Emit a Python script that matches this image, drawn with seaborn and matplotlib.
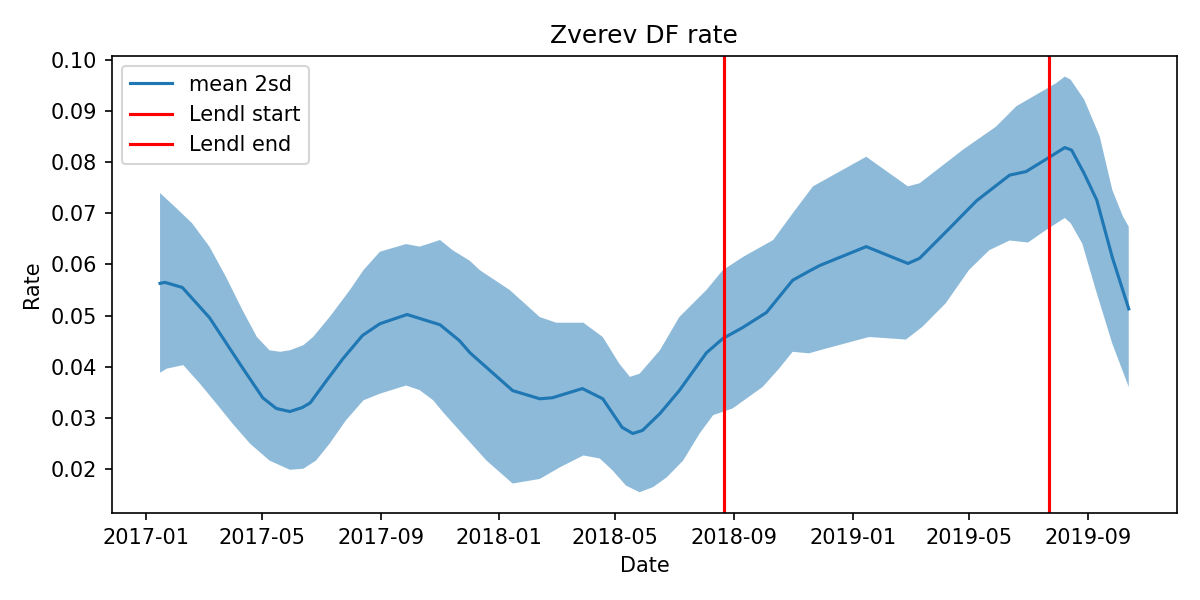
import matplotlib
matplotlib.use("Agg")
import matplotlib.pyplot as plt
import seaborn as sns
import pandas as pd
import numpy as np

# ---- data ----
mean_dates = ["2017-01-16", "2017-01-21", "2017-02-08", "2017-03-08", "2017-04-11", "2017-05-02",
              "2017-05-16", "2017-05-30", "2017-06-12", "2017-06-20", "2017-07-07", "2017-07-24",
              "2017-08-13", "2017-08-31", "2017-09-28", "2017-11-01", "2017-11-21", "2017-12-02",
              "2018-01-15", "2018-02-12", "2018-02-25", "2018-03-28", "2018-04-18", "2018-05-08",
              "2018-05-19", "2018-05-29", "2018-06-16", "2018-07-06", "2018-08-03", "2018-08-20",
              "2018-09-09", "2018-10-04", "2018-10-31", "2018-11-18", "2018-11-28", "2019-01-15",
              "2019-02-27", "2019-03-11", "2019-04-11", "2019-05-09", "2019-06-12", "2019-06-29",
              "2019-07-23", "2019-08-08", "2019-08-15", "2019-08-28", "2019-09-10", "2019-09-26",
              "2019-10-13"]
mean_vals = [0.0563, 0.0565, 0.0555, 0.0496, 0.0398, 0.0339,
             0.0318, 0.0312, 0.0320, 0.0329, 0.0373, 0.0416,
             0.0461, 0.0484, 0.0502, 0.0482, 0.0451, 0.0427,
             0.0353, 0.0337, 0.0339, 0.0357, 0.0337, 0.0281,
             0.0269, 0.0275, 0.0308, 0.0353, 0.0427, 0.0455,
             0.0476, 0.0506, 0.0569, 0.0588, 0.0598, 0.0635,
             0.0602, 0.0612, 0.0671, 0.0725, 0.0775, 0.0782,
             0.0810, 0.0829, 0.0824, 0.0778, 0.0726, 0.0614,
             0.0513]

upper_dates = ["2017-01-16", "2017-02-02", "2017-02-18", "2017-03-08", "2017-03-25", "2017-04-11",
               "2017-04-26", "2017-05-09", "2017-05-20", "2017-05-30", "2017-06-13", "2017-06-23",
               "2017-07-10", "2017-07-31", "2017-08-14", "2017-08-31", "2017-09-27", "2017-10-11",
               "2017-10-21", "2017-11-01", "2017-11-14", "2017-12-02", "2017-12-12", "2018-01-12",
               "2018-02-12", "2018-03-01", "2018-03-29", "2018-04-18", "2018-05-05", "2018-05-16",
               "2018-05-26", "2018-06-16", "2018-07-06", "2018-08-03", "2018-08-20", "2018-09-10",
               "2018-10-11", "2018-10-31", "2018-11-21", "2019-01-15", "2019-02-27", "2019-03-11",
               "2019-04-25", "2019-05-29", "2019-06-19", "2019-07-30", "2019-08-08", "2019-08-14",
               "2019-08-28", "2019-09-13", "2019-09-26", "2019-10-07", "2019-10-13"]
upper_vals = [0.0740, 0.0710, 0.0681, 0.0635, 0.0576, 0.0511,
              0.0458, 0.0432, 0.0429, 0.0432, 0.0442, 0.0458,
              0.0497, 0.0550, 0.0589, 0.0625, 0.0640, 0.0635,
              0.0641, 0.0648, 0.0628, 0.0607, 0.0589, 0.0550,
              0.0497, 0.0486, 0.0486, 0.0458, 0.0406, 0.0380,
              0.0386, 0.0432, 0.0497, 0.0550, 0.0589, 0.0615,
              0.0648, 0.0700, 0.0753, 0.0811, 0.0753, 0.0759,
              0.0825, 0.0870, 0.0910, 0.0955, 0.0968, 0.0962,
              0.0923, 0.0851, 0.0746, 0.0694, 0.0674]

lower_dates = ["2017-01-16", "2017-01-23", "2017-02-09", "2017-02-26", "2017-03-15", "2017-04-01",
               "2017-04-19", "2017-05-09", "2017-05-30", "2017-06-13", "2017-06-26", "2017-07-10",
               "2017-07-27", "2017-08-14", "2017-08-31", "2017-09-27", "2017-10-11", "2017-10-25",
               "2017-11-04", "2017-11-21", "2017-12-19", "2018-01-15", "2018-02-12", "2018-03-05",
               "2018-03-29", "2018-04-15", "2018-04-28", "2018-05-12", "2018-05-26", "2018-06-09",
               "2018-06-23", "2018-07-10", "2018-07-27", "2018-08-10", "2018-08-30", "2018-09-30",
               "2018-10-17", "2018-10-31", "2018-11-17", "2018-11-28", "2019-01-18", "2019-02-25",
               "2019-03-14", "2019-04-07", "2019-05-01", "2019-05-22", "2019-06-12", "2019-07-01",
               "2019-07-20", "2019-08-08", "2019-08-14", "2019-08-26", "2019-09-09", "2019-09-26",
               "2019-10-13"]
lower_vals = [0.0388, 0.0396, 0.0403, 0.0367, 0.0328, 0.0288,
              0.0249, 0.0216, 0.0198, 0.0200, 0.0216, 0.0249,
              0.0295, 0.0334, 0.0347, 0.0363, 0.0354, 0.0334,
              0.0311, 0.0275, 0.0216, 0.0171, 0.0180, 0.0203,
              0.0226, 0.0220, 0.0197, 0.0167, 0.0154, 0.0164,
              0.0183, 0.0216, 0.0269, 0.0305, 0.0318, 0.0360,
              0.0396, 0.0429, 0.0426, 0.0432, 0.0458, 0.0453,
              0.0478, 0.0524, 0.0589, 0.0628, 0.0647, 0.0643,
              0.0668, 0.0691, 0.0681, 0.0641, 0.0550, 0.0445,
              0.0360]

lendl_start = "2018-08-21"
lendl_end = "2019-07-23"

title = "Zverev DF rate"
xlabel = "Date"
ylabel = "Rate"

# ---- plotting ----
mean_df = pd.DataFrame({"Date": pd.to_datetime(mean_dates), "Rate": mean_vals})
up_d = pd.to_datetime(upper_dates)
lo_d = pd.to_datetime(lower_dates)

fig, ax = plt.subplots(figsize=(8, 4), dpi=150)
fig.subplots_adjust(left=0.093, right=0.981, bottom=0.145, top=0.907)

poly_x = np.concatenate([up_d.values, lo_d.values[::-1]])
poly_y = np.concatenate([np.array(upper_vals), np.array(lower_vals)[::-1]])
ax.fill(poly_x, poly_y, color="#1f77b4", alpha=0.5, linewidth=0)

sns.lineplot(data=mean_df, x="Date", y="Rate", ax=ax, color="#1f77b4",
             linewidth=1.5, label="mean 2sd", estimator=None)

ax.axvline(pd.Timestamp(lendl_start), color="red", linewidth=1.5, label="Lendl start")
ax.axvline(pd.Timestamp(lendl_end), color="red", linewidth=1.5, label="Lendl end")

ax.set_title(title, fontsize=12)
ax.set_xlabel(xlabel)
ax.set_ylabel(ylabel)
ax.legend(loc="upper left")

fig.savefig("out.png", dpi=150)
